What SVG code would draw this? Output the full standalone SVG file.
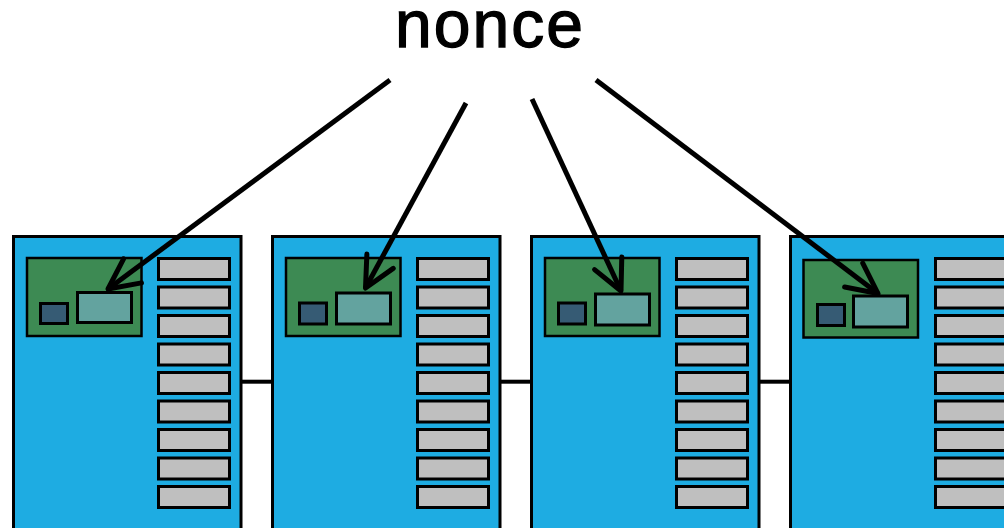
<svg xmlns="http://www.w3.org/2000/svg" xmlns:xlink="http://www.w3.org/1999/xlink" width="1004" height="528" viewBox="0 0 1004 528">
<style>
.outer{fill:#1eace2;stroke:#000;stroke-width:3}
.panel{fill:#3d8a53;stroke:#000;stroke-width:2.5}
.key{fill:#365b74;stroke:#000;stroke-width:3}
.nonce{fill:#63a39f;stroke:#000;stroke-width:3}
.tx{fill:#bfbfbf;stroke:#000;stroke-width:3}
.link{stroke:#000;stroke-width:4;fill:none}
.arrow{stroke:#000;stroke-width:5;fill:none;marker-end:url(#head)}
.title{font-family:"Liberation Sans",Arial,sans-serif;font-size:66px;fill:#000;stroke:#000;stroke-width:1.3px;letter-spacing:2px}
</style>
<defs>
<marker id="head" markerUnits="userSpaceOnUse" viewBox="-40 -20 44 40" markerWidth="44" markerHeight="40" refX="0" refY="0" orient="auto" overflow="visible">
<path d="M-30.5,-15 L0,0 L-30.5,15" fill="none" stroke="#000" stroke-width="5" stroke-linecap="round" stroke-linejoin="round"/>
</marker>
<g id="txs">
<rect class="tx" x="0" y="0" width="71" height="21"/>
<rect class="tx" x="0" y="28.5" width="71" height="21"/>
<rect class="tx" x="0" y="57" width="71" height="21"/>
<rect class="tx" x="0" y="85.5" width="71" height="21"/>
<rect class="tx" x="0" y="114" width="71" height="21"/>
<rect class="tx" x="0" y="142.5" width="71" height="21"/>
<rect class="tx" x="0" y="171" width="71" height="21"/>
<rect class="tx" x="0" y="199.5" width="71" height="21"/>
<rect class="tx" x="0" y="228" width="71" height="21"/>
</g>
</defs>
<rect width="1004" height="528" fill="#fff"/>
<text id="label-nonce" class="title" x="490" y="47" text-anchor="middle">nonce</text>

<g id="block1">
<rect class="outer" x="13.5" y="236.5" width="227.5" height="300"/>
<rect class="panel" x="27" y="258" width="114.5" height="78"/>
<rect class="key" x="40.5" y="303.5" width="27" height="20"/>
<rect class="nonce" x="77.5" y="292.5" width="54" height="30"/>
<use xlink:href="#txs" x="158.5" y="258.5"/>
</g>
<g id="block2">
<rect class="outer" x="272.5" y="236.5" width="227.5" height="300"/>
<rect class="panel" x="286" y="258" width="114.5" height="78"/>
<rect class="key" x="299.5" y="303" width="27" height="21"/>
<rect class="nonce" x="336.5" y="293" width="54" height="31"/>
<use xlink:href="#txs" x="417.5" y="258.5"/>
</g>
<g id="block3">
<rect class="outer" x="531.5" y="236.5" width="227.5" height="300"/>
<rect class="panel" x="545" y="258" width="114.5" height="78"/>
<rect class="key" x="558.5" y="303" width="27" height="21"/>
<rect class="nonce" x="595.5" y="294" width="54" height="31"/>
<use xlink:href="#txs" x="676.5" y="258.5"/>
</g>
<g id="block4">
<rect class="outer" x="790.5" y="236.5" width="227.5" height="300"/>
<rect class="panel" x="803.5" y="260" width="114.5" height="77.5"/>
<rect class="key" x="817.5" y="304.5" width="27" height="21"/>
<rect class="nonce" x="853.5" y="296" width="54" height="31"/>
<use xlink:href="#txs" x="935.5" y="258.5"/>
</g>

<g id="connectors">
<line class="link" x1="242" y1="381.7" x2="271" y2="381.7"/>
<line class="link" x1="501" y1="381.7" x2="530" y2="381.7"/>
<line class="link" x1="760" y1="381.7" x2="789" y2="381.7"/>
<line class="arrow" x1="390" y1="80" x2="108" y2="289"/>
<line class="arrow" x1="466" y1="103" x2="365.5" y2="288"/>
<line class="arrow" x1="532" y1="99" x2="621" y2="291"/>
<line class="arrow" x1="596" y1="80" x2="878" y2="293.5"/>
</g>
</svg>
